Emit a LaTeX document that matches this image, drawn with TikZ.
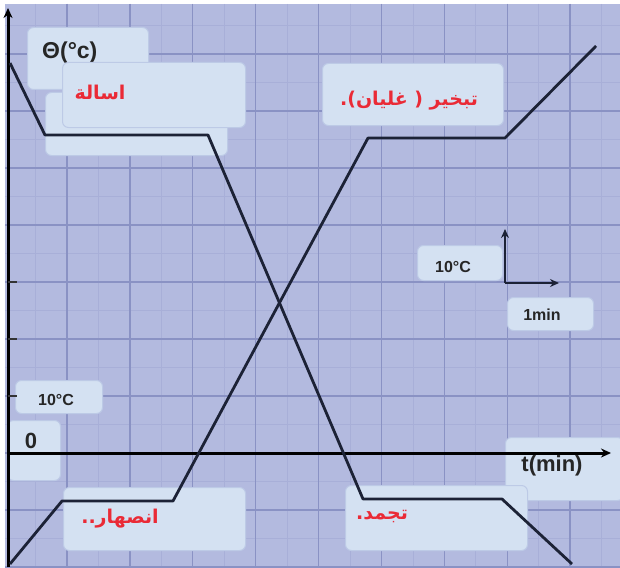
\documentclass[tikz,border=0pt]{standalone}
\usepackage{fontspec}
\setmainfont{Liberation Sans}
\newfontfamily\arabicfont[Script=Arabic]{DejaVu Sans}
\TeXXeTstate=1
\usetikzlibrary{arrows.meta}
\definecolor{bg}{HTML}{B3BADF}
\definecolor{gridmaj}{HTML}{8A92C4}
\definecolor{gridmin}{HTML}{A8AFD8}
\definecolor{boxfill}{HTML}{D4E1F2}
\definecolor{boxedge}{HTML}{BDCAE6}
\definecolor{arred}{HTML}{EA2A36}
\definecolor{curvecol}{HTML}{1C2236}
\tikzset{
  lbl/.style={draw=boxedge, fill=boxfill, rounded corners=6pt, line width=1pt, anchor=north west, inner sep=0pt},
  artext/.style={font=\arabicfont\bfseries\fontsize{19}{23}\selectfont, text=arred, inner sep=0pt},
  smalltext/.style={font=\bfseries\fontsize{16}{19}\selectfont, text=black!85, inner sep=0pt},
  bigtext/.style={font=\bfseries\fontsize{23}{27}\selectfont, text=black!85, inner sep=0pt},
  curveline/.style={draw=curvecol, line width=2.8pt, line join=round},
  axisline/.style={draw=black, line width=3pt, -{Stealth[length=10pt,width=9pt]}},
  scalearrow/.style={draw=curvecol, line width=2pt, -{Stealth[length=9pt,width=8pt]}},
  tickline/.style={draw=black!80, line width=2pt}
}
\begin{document}
\begin{tikzpicture}[x=1pt,y=-1pt]
\useasboundingbox (0,0) rectangle (620,567);
\fill[white] (0,0) rectangle (620,567);
\fill[bg] (5,4) rectangle (620,567);
\begin{scope}
\clip (5,4) rectangle (620,567);
\foreach \k in {0,...,20} {\draw[gridmin, line width=0.6pt] ({4+31.45*\k},4) -- ({4+31.45*\k},567);}
\foreach \k in {-4,...,16} {\draw[gridmin, line width=0.6pt] (5,{453-28.5*\k}) -- (620,{453-28.5*\k});}
\foreach \k in {1,...,9} {\draw[gridmaj, line width=1.4pt] ({4+62.9*\k},4) -- ({4+62.9*\k},567);}
\foreach \k in {-2,...,8} {\draw[gridmaj, line width=1.4pt] (5,{453-57*\k}) -- (620,{453-57*\k});}
\end{scope}

% label boxes
\node[lbl, minimum width=121pt, minimum height=62pt] (bTheta) at (27,27) {};
\node[bigtext, anchor=west] (tTheta) at (42,53) {Θ(°c)};
\node[lbl, minimum width=182pt, minimum height=63pt] (bBack) at (45,92) {};
\node[lbl, minimum width=183pt, minimum height=65pt] (bIsala) at (62,62) {};
\node[artext] (tIsala) at (100,92) {\beginR اسالة\endR};
\node[lbl, minimum width=181pt, minimum height=62pt] (bTabkhir) at (322,63) {};
\node[artext] (tTabkhir) at (409,101) {\beginR تبخير ( غليان).\endR};
\node[lbl, minimum width=85pt, minimum height=35pt] (bTenR) at (417,245) {};
\node[smalltext] (tTenR) at (453,267) {10°C};
\node[lbl, minimum width=86pt, minimum height=33pt] (bMin) at (507,297) {};
\node[smalltext] (tMin) at (542,315) {1min};
\node[lbl, minimum width=87pt, minimum height=33pt] (bTenL) at (15,380) {};
\node[smalltext] (tTenL) at (56,400) {10°C};
\node[lbl, minimum width=53pt, minimum height=60pt] (bZero) at (7,420) {};
\node[bigtext, font=\bfseries\fontsize{22}{26}\selectfont] (tZero) at (31,441) {0};
\node[lbl, minimum width=182pt, minimum height=63pt] (bInsihar) at (63,487) {};
\node[artext] (tInsihar) at (120,519) {\beginR انصهار..\endR};
\node[lbl, minimum width=118pt, minimum height=63pt] (bTime) at (505,437) {};
\node[bigtext, font=\bfseries\fontsize{22}{26}\selectfont] (tTime) at (552,466) {t(min)};
\node[lbl, minimum width=182pt, minimum height=65pt] (bTajammud) at (345,485) {};
\node[artext] (tTajammud) at (382,517) {\beginR تجمد.\endR};

% axes
\coordinate (yb) at (8,567);
\coordinate (yt) at (8,8);
\coordinate (xs) at (8,453);
\coordinate (xe) at (611,453);
\draw[axisline] (yb) -- (yt);
\draw[axisline] (xs) -- (xe);
\foreach \t [count=\i] in {282,339,396} {
  \coordinate (ta\i) at (8,\t);
  \coordinate (tb\i) at (17,\t);
  \draw[tickline] (ta\i) -- (tb\i);
}

% scale arrows
\coordinate (s0) at (505,283);
\coordinate (s1) at (505,229);
\coordinate (s2) at (559,283);
\draw[scalearrow] (s0) -- (s1);
\draw[scalearrow] (s0) -- (s2);

% cooling curve
\coordinate (c1) at (10,63);
\coordinate (c2) at (45,135);
\coordinate (c3) at (208,135);
\coordinate (c4) at (363,499);
\coordinate (c5) at (502,499);
\coordinate (c6) at (572,564);
\draw[curveline] (c1) -- (c2) -- (c3) -- (c4) -- (c5) -- (c6);

% heating curve
\coordinate (h1) at (10,564);
\coordinate (h2) at (62,501);
\coordinate (h3) at (173,501);
\coordinate (h4) at (368,138);
\coordinate (h5) at (505,138);
\coordinate (h6) at (596,46);
\draw[curveline] (h1) -- (h2) -- (h3) -- (h4) -- (h5) -- (h6);
\end{tikzpicture}
\end{document}
